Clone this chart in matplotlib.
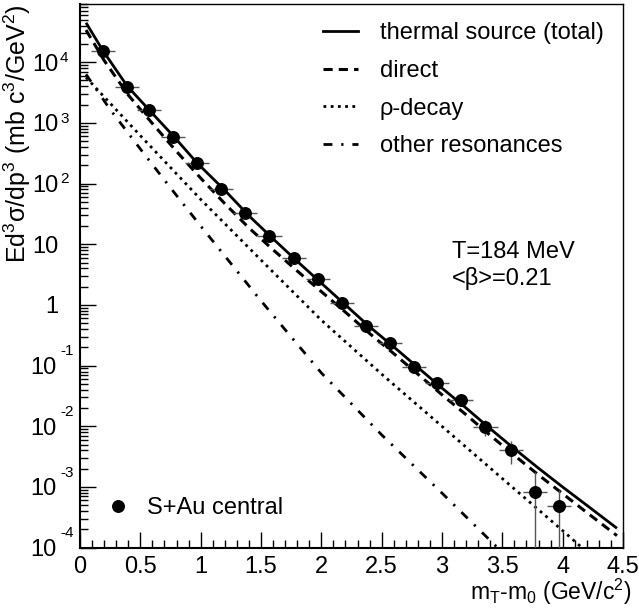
import numpy as np
import matplotlib
matplotlib.use("Agg")
import matplotlib.pyplot as plt
from matplotlib import transforms
from matplotlib.lines import Line2D
from matplotlib.ticker import LogLocator, MultipleLocator, NullFormatter

plt.rcParams['font.family'] = ['Liberation Sans', 'DejaVu Sans']
plt.rcParams['mathtext.fontset'] = 'custom'
plt.rcParams['mathtext.rm'] = 'Liberation Sans'
plt.rcParams['mathtext.it'] = 'Liberation Sans:italic'
plt.rcParams['mathtext.bf'] = 'Liberation Sans:bold'
plt.rcParams['mathtext.default'] = 'regular'

# ---------------- data ----------------
data_x = [0.19, 0.39, 0.57, 0.77, 0.97, 1.17, 1.37, 1.57, 1.77, 1.97,
          2.17, 2.37, 2.57, 2.77, 2.96, 3.16, 3.36, 3.57, 3.77, 3.97]
data_y = [1.54e4, 3.96e3, 1.64e3, 581, 216, 81.7, 32.5, 13.7, 6.02, 2.65,
          1.07, 0.451, 0.239, 0.094, 0.0523, 0.0275, 0.00986, 0.00407, 8.4e-4, 4.9e-4]
data_yerr = [300, 80, 33, 12, 4.5, 1.7, 0.7, 0.3, 0.13, 0.06,
             0.025, 0.011, 0.006, 0.008, 0.006, 0.006, 0.0030, 0.0017, 9.6e-4, 4.1e-4]
data_xerr = 0.1

total_x = [0.05, 0.19, 0.39, 0.58, 0.78, 0.97, 1.2, 1.4, 1.6, 1.8, 2.0, 2.2,
           2.4, 2.6, 2.8, 3.0, 3.2, 3.4, 3.6, 3.8, 4.0, 4.2, 4.45]
total_y = [4.47e4, 1.55e4, 4.07e3, 1.58e3, 589, 219, 77.6, 29.5, 12.3, 5.25, 2.29, 1.00,
           0.437, 0.204, 0.0933, 0.0427, 0.0200, 0.00912, 0.00427, 0.00204, 0.00100, 5.0e-4, 2.09e-4]

direct_x = [0.05, 0.2, 0.4, 0.6, 0.8, 1.0, 1.2, 1.4, 1.6, 1.8, 2.0, 2.2,
            2.4, 2.6, 2.8, 3.0, 3.2, 3.4, 3.6, 3.8, 4.0, 4.2, 4.45]
direct_y = [3.39e4, 1.07e4, 2.88e3, 977, 339, 123, 46.8, 18.6, 8.13, 3.63, 1.66, 0.759,
            0.339, 0.158, 0.0724, 0.0331, 0.0155, 0.00708, 0.00331, 0.00158, 7.76e-4, 3.80e-4, 1.58e-4]

rho_x = [0.05, 0.5, 1.0, 1.5, 2.0, 2.5, 3.0, 3.5, 4.0, 4.16]
rho_y = [5.62e3, 617, 55.0, 5.50, 0.562, 0.0724, 0.0100, 1.38e-3, 1.91e-4, 1.0e-4]

other_x = [0.05, 0.25, 0.5, 0.75, 1.0, 1.5, 2.0, 2.5, 3.0, 3.46]
other_y = [6.31e3, 1.66e3, 372, 85.1, 20.0, 1.17, 0.0759, 7.24e-3, 7.94e-4, 1.0e-4]

legend_labels = ['thermal source (total)', 'direct', 'ρ-decay', 'other resonances']
data_label = 'S+Au central'
annot_lines = ['T=184 MeV', '<β>=0.21']

xticks = [0, 0.5, 1, 1.5, 2, 2.5, 3, 3.5, 4, 4.5]
xticklabels = ['0', '0.5', '1', '1.5', '2', '2.5', '3', '3.5', '4', '4.5']
ytick_vals = [1e-4, 1e-3, 1e-2, 1e-1, 1, 10, 1e2, 1e3, 1e4]
ytick_base = ['10', '10', '10', '10', '1', '10', '10', '10', '10']
ytick_exp = ['-4', '-3', '-2', '-1', '', '', '2', '3', '4']

# ---------------- figure ----------------
W, H = 639, 611
fig = plt.figure(figsize=(W / 100, H / 100), dpi=100)
L, R, T, B = 80, 623, 4.3, 547.7
ax = fig.add_axes([L / W, 1 - B / H, (R - L) / W, (B - T) / H])
ax.set_xlim(0, 4.5)
ax.set_yscale('log')
ax.set_ylim(1e-4, 9e4)

FS = 17
DASH = dict(lw=2.2, dashes=(3, 2))
DOT = dict(lw=2.0, dashes=(1, 1.6))
DASHDOT = dict(lw=2.0, dashes=(3.2, 3.2, 0.8, 3.2))

ax.plot(total_x, total_y, color='black', lw=2.0, solid_capstyle='butt')
ax.plot(direct_x, direct_y, color='black', **DASH)
ax.plot(rho_x, rho_y, color='black', **DOT)
ax.plot(other_x, other_y, color='black', **DASHDOT)

ax.errorbar(data_x, data_y, xerr=data_xerr, yerr=data_yerr, fmt='o', color='black',
            ms=8.3, ecolor='#555555', elinewidth=1.0, capsize=0, zorder=5)

# axes styling
for s in ['left', 'bottom']:
    ax.spines[s].set_linewidth(1.5)
for s in ['top', 'right']:
    ax.spines[s].set_linewidth(1.0)
ax.xaxis.set_major_locator(MultipleLocator(0.5))
ax.xaxis.set_minor_locator(MultipleLocator(0.1))
ax.set_xticks(xticks)
ax.set_xticklabels(xticklabels, fontsize=FS)
ax.yaxis.set_major_locator(LogLocator(base=10, numticks=100))
ax.yaxis.set_minor_locator(LogLocator(base=10, subs=np.arange(2, 10), numticks=100))
ax.yaxis.set_minor_formatter(NullFormatter())
ax.tick_params(which='both', direction='in', top=False, right=False, labelleft=False)
ax.tick_params(which='major', length=11.5, width=1.0)
ax.tick_params(which='minor', length=5.8, width=1.0)
ax.tick_params(axis='x', which='major', pad=6.0)

# ROOT-style y tick labels
blend = transforms.blended_transform_factory(ax.transAxes, ax.transData)
xb_pos = (58.3 - L) / (R - L)
xb_neg = (57.0 - L) / (R - L)
xe = (60.0 - L) / (R - L)
for v, b, e in zip(ytick_vals, ytick_base, ytick_exp):
    tb = transforms.offset_copy(blend, fig=fig, x=0, y=-8.45, units='dots')
    xb = xb_neg if e.startswith('-') else xb_pos
    ax.text(xb, v, b, transform=tb, ha='right', va='baseline', fontsize=FS, clip_on=False)
    if e:
        dy = 10.25 if e.startswith('-') else 0.35
        te = transforms.offset_copy(blend, fig=fig, x=0, y=dy, units='dots')
        ax.text(xe, v, e, transform=te, ha='left', va='baseline', fontsize=11, clip_on=False)

# axis titles
fig.text(632 / W, 1 - 600 / H, 'm$_T$-m$_0$ (GeV/c$^2$)', ha='right', va='baseline', fontsize=16.5)
fig.text(26.5 / W, 1 - 4.3 / H, 'Ed$^3$σ/dp$^3$ (mb c$^3$/GeV$^2$)', rotation=90,
         rotation_mode='anchor', ha='right', va='baseline', fontsize=18)

# legends
handles = [Line2D([], [], color='black', lw=2.0),
           Line2D([], [], color='black', **DASH),
           Line2D([], [], color='black', **DOT),
           Line2D([], [], color='black', **DASHDOT)]
leg1 = ax.legend(handles, legend_labels, loc='upper left',
                 bbox_to_anchor=(323 / W, 1 - 22 / H), bbox_transform=fig.transFigure,
                 frameon=False, fontsize=FS, handlelength=1.48, handletextpad=0.93,
                 labelspacing=0.67, borderpad=0, borderaxespad=0)
ax.add_artist(leg1)
mh = Line2D([], [], marker='o', color='black', ls='none', ms=8.3)
ax.legend([mh], [data_label], loc='upper left',
          bbox_to_anchor=(106 / W, 1 - 497 / H), bbox_transform=fig.transFigure,
          frameon=False, fontsize=FS, handlelength=1.0, handletextpad=0.72,
          borderpad=0, borderaxespad=0)

# annotation
ax.text((451.7 - L) / (R - L), (B - 258.3) / (B - T), annot_lines[0], transform=ax.transAxes,
        ha='left', va='baseline', fontsize=FS)
ax.text((451.7 - L) / (R - L), (B - 285) / (B - T), annot_lines[1], transform=ax.transAxes,
        ha='left', va='baseline', fontsize=FS)

fig.savefig('out.png', dpi=100)
